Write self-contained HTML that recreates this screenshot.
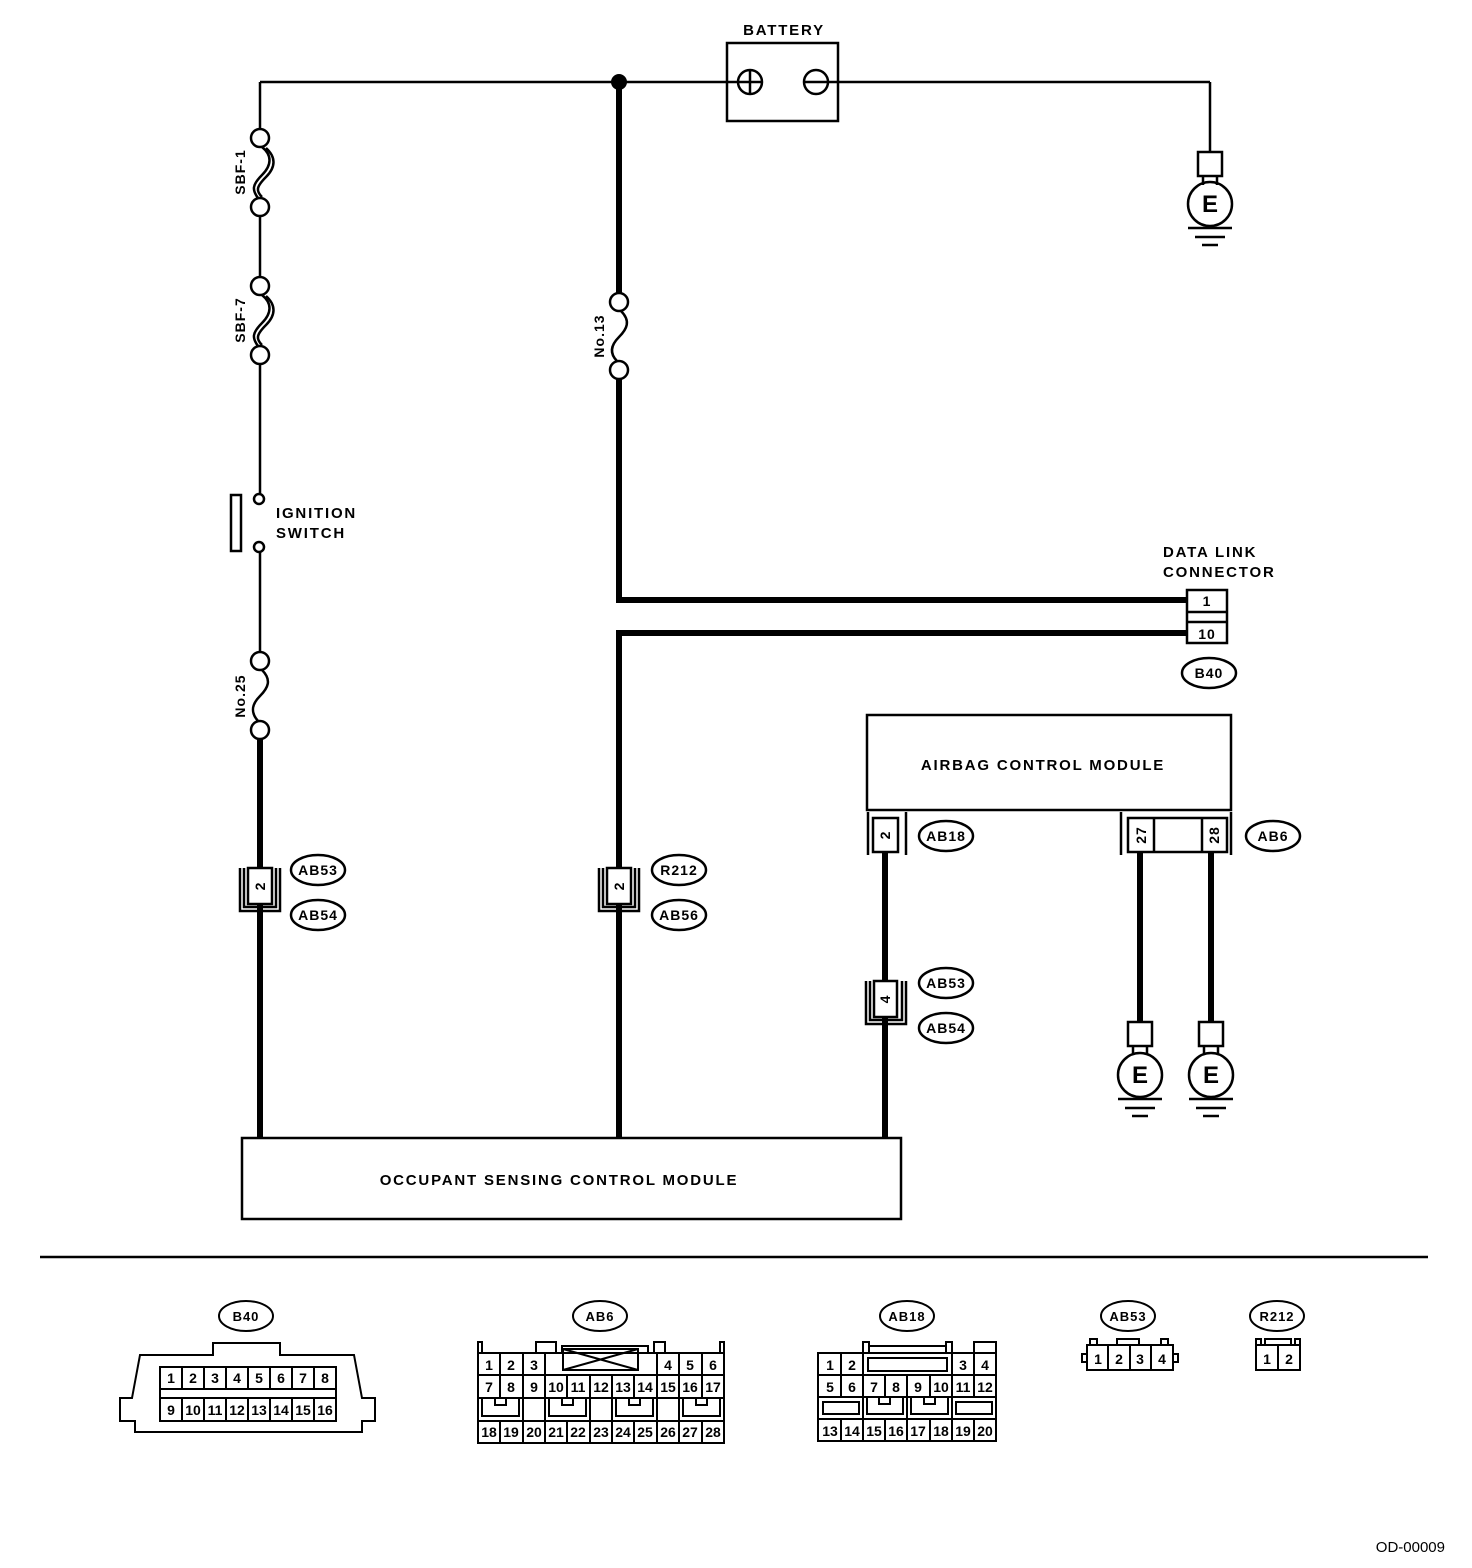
<!DOCTYPE html>
<html><head><meta charset="utf-8"><style>
html,body{margin:0;padding:0;background:#fff}
svg{display:block}
text{font-family:"Liberation Sans",sans-serif;font-weight:bold;fill:#000}
.ls text{letter-spacing:1.8px}
.ls2 text{letter-spacing:1px}
</style></head><body>
<svg width="1472" height="1568" viewBox="0 0 1472 1568" xmlns="http://www.w3.org/2000/svg">
<g fill="none" stroke="#000" stroke-width="2.5">
<line x1="260" y1="82" x2="738" y2="82"/>
<line x1="804" y1="82" x2="1210" y2="82"/>
<line x1="1210" y1="82" x2="1210" y2="152"/>
<rect x="727" y="43" width="111" height="78"/>
<circle cx="750" cy="82" r="12"/>
<line x1="750" y1="70" x2="750" y2="94"/><line x1="738" y1="82" x2="762" y2="82"/>
<circle cx="816" cy="82" r="12"/>
<rect x="1198" y="152" width="24" height="24"/>
<line x1="1203" y1="176" x2="1203" y2="185"/><line x1="1217" y1="176" x2="1217" y2="185"/>
<circle cx="1210" cy="204" r="22"/>
<line x1="1188" y1="228" x2="1232" y2="228"/><line x1="1195" y1="237" x2="1225" y2="237"/><line x1="1202" y1="245" x2="1218" y2="245"/>

<line x1="260" y1="82" x2="260" y2="129"/>
<circle cx="260" cy="138" r="9"/>
<path d="M262 147 C272 155,272 165,262 175 C252 185,252 190,258 198"/>
<path d="M266 148 C276 157,276 167,266 177 C256 187,256 191,262 197"/>
<circle cx="260" cy="207" r="9"/>
<line x1="260" y1="216" x2="260" y2="277"/>
<circle cx="260" cy="286" r="9"/>
<path d="M262 295 C272 303,272 313,262 323 C252 333,252 338,258 346"/>
<path d="M266 296 C276 305,276 315,266 325 C256 335,256 339,262 345"/>
<circle cx="260" cy="355" r="9"/>
<line x1="260" y1="364" x2="260" y2="494"/>
<circle cx="259" cy="499" r="5"/>
<circle cx="259" cy="547" r="5"/>
<rect x="231" y="495" width="10" height="56"/>
<line x1="260" y1="552" x2="260" y2="652"/>
<circle cx="260" cy="661" r="9"/>
<path d="M262 670 C272 680,268 688,260 696 C252 704,250 712,258 721"/>
<circle cx="260" cy="730" r="9"/>

<circle cx="619" cy="302" r="9"/>
<path d="M621 311 C631 321,627 329,619 337 C611 345,609 353,617 361"/>
<circle cx="619" cy="370" r="9"/>
</g>
<g stroke="#000" stroke-width="6" fill="none">
<line x1="619" y1="82" x2="619" y2="293"/>
<line x1="619" y1="379" x2="619" y2="600"/>
<line x1="616" y1="600" x2="1187" y2="600"/>
<line x1="619" y1="633" x2="1187" y2="633"/>
<line x1="619" y1="630" x2="619" y2="1138"/>
<line x1="260" y1="739" x2="260" y2="1138"/>
<line x1="885" y1="852" x2="885" y2="1138"/>
<line x1="1140" y1="852" x2="1140" y2="1022"/>
<line x1="1211" y1="852" x2="1211" y2="1022"/>
</g>
<circle cx="619" cy="82" r="8" fill="#000"/>

<g fill="none" stroke="#000" stroke-width="2.5">
<rect x="1187" y="590" width="40" height="53" fill="#fff"/>
<line x1="1187" y1="612" x2="1227" y2="612"/><line x1="1187" y1="622" x2="1227" y2="622"/>
<ellipse cx="1209" cy="673" rx="27" ry="15"/>
<rect x="867" y="715" width="364" height="95"/>
<line x1="868" y1="812" x2="868" y2="855"/><line x1="906" y1="812" x2="906" y2="855"/>
<rect x="873" y="818" width="25" height="34" fill="#fff"/>
<ellipse cx="946" cy="836" rx="27" ry="15"/>
<line x1="1121" y1="812" x2="1121" y2="855"/><line x1="1231" y1="812" x2="1231" y2="855"/>
<rect x="1128" y="818" width="99" height="34" fill="#fff"/>
<line x1="1154" y1="818" x2="1154" y2="852"/><line x1="1202" y1="818" x2="1202" y2="852"/>
<ellipse cx="1273" cy="836" rx="27" ry="15"/>
<path d="M240 868 V911 H280 V868"/><path d="M244 868 V907 H276 V868"/>
<rect x="248" y="868" width="24" height="36" fill="#fff"/>
<ellipse cx="318" cy="870" rx="27" ry="15"/><ellipse cx="318" cy="915" rx="27" ry="15"/>
<path d="M599 868 V911 H639 V868"/><path d="M603 868 V907 H635 V868"/>
<rect x="607" y="868" width="24" height="36" fill="#fff"/>
<ellipse cx="679" cy="870" rx="27" ry="15"/><ellipse cx="679" cy="915" rx="27" ry="15"/>
<path d="M866 981 V1024 H906 V981"/><path d="M870 981 V1020 H902 V981"/>
<rect x="874" y="981" width="23" height="36" fill="#fff"/>
<ellipse cx="946" cy="983" rx="27" ry="15"/><ellipse cx="946" cy="1028" rx="27" ry="15"/>
<rect x="1128" y="1022" width="24" height="24"/>
<line x1="1133" y1="1046" x2="1133" y2="1055"/><line x1="1147" y1="1046" x2="1147" y2="1055"/>
<circle cx="1140" cy="1075" r="22"/>
<line x1="1118" y1="1099" x2="1162" y2="1099"/><line x1="1125" y1="1108" x2="1155" y2="1108"/><line x1="1132" y1="1116" x2="1148" y2="1116"/>
<rect x="1199" y="1022" width="24" height="24"/>
<line x1="1204" y1="1046" x2="1204" y2="1055"/><line x1="1218" y1="1046" x2="1218" y2="1055"/>
<circle cx="1211" cy="1075" r="22"/>
<line x1="1189" y1="1099" x2="1233" y2="1099"/><line x1="1196" y1="1108" x2="1226" y2="1108"/><line x1="1203" y1="1116" x2="1219" y2="1116"/>
<rect x="242" y="1138" width="659" height="81"/>
<line x1="40" y1="1257" x2="1428" y2="1257"/>
</g>

<g font-size="15" class="ls">
<text x="784" y="35" text-anchor="middle">BATTERY</text>
<text x="276" y="518">IGNITION</text>
<text x="276" y="538">SWITCH</text>
<text x="1163" y="557">DATA LINK</text>
<text x="1163" y="577">CONNECTOR</text>
<text x="1043" y="770" text-anchor="middle">AIRBAG CONTROL MODULE</text>
<text x="559" y="1185" text-anchor="middle">OCCUPANT SENSING CONTROL MODULE</text>
</g>
<g font-size="14" class="ls2">
<text transform="translate(245,172) rotate(-90)" text-anchor="middle">SBF-1</text>
<text transform="translate(245,320) rotate(-90)" text-anchor="middle">SBF-7</text>
<text transform="translate(245,696) rotate(-90)" text-anchor="middle">No.25</text>
<text transform="translate(604,336) rotate(-90)" text-anchor="middle">No.13</text>
</g>
<g font-size="24" text-anchor="middle">
<text x="1210" y="212">E</text>
<text x="1140" y="1083">E</text>
<text x="1211" y="1083">E</text>
</g>
<g font-size="14" text-anchor="middle" class="ls2">
<text x="1207" y="606">1</text><text x="1207" y="639">10</text>
<text x="1209" y="678">B40</text>
<text x="946" y="841">AB18</text><text x="1273" y="841">AB6</text>
<text x="318" y="875">AB53</text><text x="318" y="920">AB54</text>
<text x="679" y="875">R212</text><text x="679" y="920">AB56</text>
<text x="946" y="988">AB53</text><text x="946" y="1033">AB54</text>
<text transform="translate(890,835) rotate(-90)">2</text>
<text transform="translate(265,886) rotate(-90)">2</text>
<text transform="translate(624,886) rotate(-90)">2</text>
<text transform="translate(890,999) rotate(-90)">4</text>
<text transform="translate(1146,835) rotate(-90)">27</text>
<text transform="translate(1219,835) rotate(-90)">28</text>
</g>

<g fill="none" stroke="#000" stroke-width="2">
<ellipse cx="246" cy="1316" rx="27" ry="15"/>
<ellipse cx="600" cy="1316" rx="27" ry="15"/>
<ellipse cx="907" cy="1316" rx="27" ry="15"/>
<ellipse cx="1128" cy="1316" rx="27" ry="15"/>
<ellipse cx="1277" cy="1316" rx="27" ry="15"/>
<path d="M213 1355 V1343 H280 V1355 H354 L362 1398 H375 V1421 H362 V1432 H135 V1421 H120 V1398 H132 L140 1355 Z"/>
<rect x="160" y="1367" width="176" height="22"/><rect x="160" y="1398" width="176" height="23"/>
<line x1="160" y1="1389" x2="160" y2="1398"/><line x1="336" y1="1389" x2="336" y2="1398"/>
<path d="M182 1367V1389M204 1367V1389M226 1367V1389M248 1367V1389M270 1367V1389M292 1367V1389M314 1367V1389"/>
<path d="M182 1398V1421M204 1398V1421M226 1398V1421M248 1398V1421M270 1398V1421M292 1398V1421M314 1398V1421"/>
<rect x="478" y="1353" width="246" height="90"/>
<path d="M478 1353 V1342 H482 V1353 M720 1353 V1342 H724 V1353 M536 1353 V1342 H556 V1353 H562 V1346 H648 V1353 H654 V1342 H665 V1353"/>
<rect x="563" y="1349" width="75" height="21"/>
<path d="M563 1349 L638 1370 M563 1370 L638 1349"/>
<path d="M478 1375 H545 M657 1375 H724 M545 1353 V1375 M657 1353 V1375 M500 1353V1375 M523 1353V1375 M679 1353V1375 M702 1353V1375"/>
<path d="M478 1375 H724 M478 1398 H724 M478 1421 H724"/>
<path d="M500 1375V1398M523 1375V1398M545 1375V1398M567 1375V1398M590 1375V1398M612 1375V1398M634 1375V1398M657 1375V1398M679 1375V1398M702 1375V1398"/>
<path d="M500 1421V1443M523 1421V1443M545 1421V1443M567 1421V1443M590 1421V1443M612 1421V1443M634 1421V1443M657 1421V1443M679 1421V1443M702 1421V1443"/>
<path d="M523 1398V1421M545 1398V1421M590 1398V1421M612 1398V1421M657 1398V1421M679 1398V1421"/>
<path d="M482 1398 V1416 H519 V1398 M495 1398 V1405 H506 V1398"/>
<path d="M549 1398 V1416 H586 V1398 M562 1398 V1405 H573 V1398"/>
<path d="M616 1398 V1416 H653 V1398 M629 1398 V1405 H640 V1398"/>
<path d="M683 1398 V1416 H720 V1398 M696 1398 V1405 H707 V1398"/>
<rect x="818" y="1353" width="178" height="88"/>
<path d="M863 1353 V1342 H869 V1353 M869 1346 H946 M946 1353 V1342 H952 V1353 M974 1353 V1342 H996 V1353"/>
<rect x="868" y="1358" width="79" height="13"/>
<path d="M818 1375 H996 M818 1397 H996 M818 1419 H996"/>
<path d="M841 1353V1375M863 1353V1375M952 1353V1375M974 1353V1375"/>
<path d="M841 1375V1397M863 1375V1397M885 1375V1397M907 1375V1397M930 1375V1397M952 1375V1397M974 1375V1397"/>
<path d="M841 1419V1441M863 1419V1441M885 1419V1441M907 1419V1441M930 1419V1441M952 1419V1441M974 1419V1441"/>
<path d="M863 1397V1419M907 1397V1419M952 1397V1419"/>
<rect x="823" y="1402" width="36" height="12"/>
<path d="M867 1397 V1414 H903 V1397 M879 1397 V1404 H890 V1397"/>
<path d="M911 1397 V1414 H948 V1397 M924 1397 V1404 H935 V1397"/>
<rect x="956" y="1402" width="36" height="12"/>
<rect x="1087" y="1345" width="86" height="25"/>
<path d="M1108 1345V1370M1130 1345V1370M1151 1345V1370"/>
<path d="M1087 1354 H1082 V1362 H1087 M1173 1354 H1178 V1362 H1173"/>
<path d="M1090 1345 V1339 H1097 V1345 M1117 1345 V1339 H1139 V1345 M1161 1345 V1339 H1168 V1345"/>
<rect x="1256" y="1345" width="44" height="25"/>
<line x1="1278" y1="1345" x2="1278" y2="1370"/>
<path d="M1256 1345 V1339 H1261 V1345 M1265 1345 V1339 H1291 V1345 M1295 1345 V1339 H1300 V1345"/>
</g>
<g font-size="13" text-anchor="middle" class="ls2">
<text x="246" y="1321">B40</text>
<text x="600" y="1321">AB6</text>
<text x="907" y="1321">AB18</text>
<text x="1128" y="1321">AB53</text>
<text x="1277" y="1321">R212</text>
</g>
<g font-size="14" text-anchor="middle" style="font-weight:normal">
<text x="171" y="1383">1</text><text x="193" y="1383">2</text><text x="215" y="1383">3</text><text x="237" y="1383">4</text><text x="259" y="1383">5</text><text x="281" y="1383">6</text><text x="303" y="1383">7</text><text x="325" y="1383">8</text>
<text x="171" y="1415">9</text><text x="193" y="1415">10</text><text x="215" y="1415">11</text><text x="237" y="1415">12</text><text x="259" y="1415">13</text><text x="281" y="1415">14</text><text x="303" y="1415">15</text><text x="325" y="1415">16</text>
<text x="489" y="1370">1</text><text x="511" y="1370">2</text><text x="534" y="1370">3</text><text x="668" y="1370">4</text><text x="690" y="1370">5</text><text x="713" y="1370">6</text>
<text x="489" y="1392">7</text><text x="511" y="1392">8</text><text x="534" y="1392">9</text><text x="556" y="1392">10</text><text x="578" y="1392">11</text><text x="601" y="1392">12</text><text x="623" y="1392">13</text><text x="645" y="1392">14</text><text x="668" y="1392">15</text><text x="690" y="1392">16</text><text x="713" y="1392">17</text>
<text x="489" y="1437">18</text><text x="511" y="1437">19</text><text x="534" y="1437">20</text><text x="556" y="1437">21</text><text x="578" y="1437">22</text><text x="601" y="1437">23</text><text x="623" y="1437">24</text><text x="645" y="1437">25</text><text x="668" y="1437">26</text><text x="690" y="1437">27</text><text x="713" y="1437">28</text>
<text x="830" y="1370">1</text><text x="852" y="1370">2</text><text x="963" y="1370">3</text><text x="985" y="1370">4</text>
<text x="830" y="1392">5</text><text x="852" y="1392">6</text><text x="874" y="1392">7</text><text x="896" y="1392">8</text><text x="918" y="1392">9</text><text x="941" y="1392">10</text><text x="963" y="1392">11</text><text x="985" y="1392">12</text>
<text x="830" y="1436">13</text><text x="852" y="1436">14</text><text x="874" y="1436">15</text><text x="896" y="1436">16</text><text x="918" y="1436">17</text><text x="941" y="1436">18</text><text x="963" y="1436">19</text><text x="985" y="1436">20</text>
<text x="1098" y="1364">1</text><text x="1119" y="1364">2</text><text x="1140" y="1364">3</text><text x="1162" y="1364">4</text>
<text x="1267" y="1364">1</text><text x="1289" y="1364">2</text>
</g>
<text x="1445" y="1552" text-anchor="end" font-size="15" style="font-weight:normal">OD-00009</text>
</svg>
</body></html>
